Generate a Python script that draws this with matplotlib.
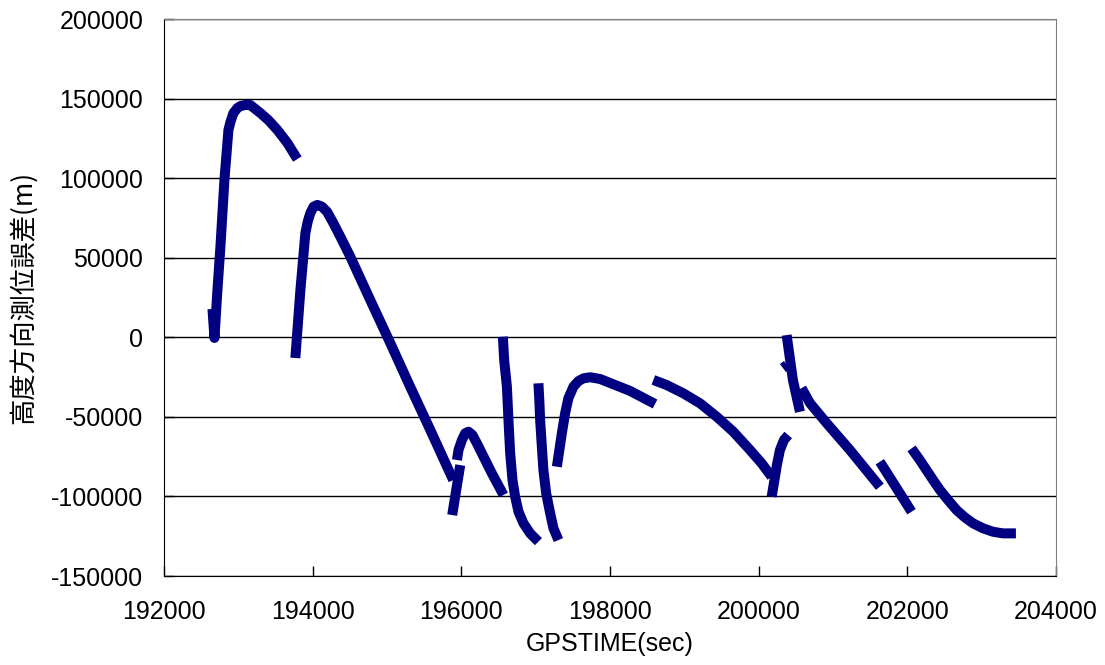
import matplotlib
matplotlib.use('Agg')
import matplotlib.pyplot as plt

plt.rcParams['font.family'] = ['Liberation Sans', 'Noto Sans CJK JP']
plt.rcParams['axes.unicode_minus'] = False

# GPS時刻(sec)と高度方向の測位誤差(m)、途切れている区間ごと
t1 = [192652, 192679, 192719, 192759, 192813, 192867, 192894, 192934, 192988, 193028,
      193095, 193163, 193297, 193404, 193525, 193660, 193794]
h1 = [17800, -400, 29700, 56700, 98800, 130300, 135300, 140900, 144100, 145300,
      146000, 145900, 140900, 136500, 130300, 122100, 112000]

t2 = [193767, 193835, 193902, 193933, 193969, 194013, 194063, 194126, 194193, 194278,
      194395, 194507, 194775, 195044, 195313, 195582, 195810, 195891]
h2 = [-13000, 29700, 65500, 72600, 78100, 82100, 83200, 82100, 78900, 71800,
      61100, 50600, 23400, -3600, -31200, -58200, -81500, -89700]

t3 = [195877, 195985]
h3 = [-111700, -80300]

t4 = [195941, 195962, 196008, 196052, 196097, 196150, 196209, 196321, 196411, 196567]
h4 = [-77100, -70800, -64500, -60300, -59300, -61400, -66600, -77100, -85500, -99100]

t5 = [196559, 196576, 196613, 196634, 196657, 196688, 196724, 196769, 196836, 196926, 197037]
h5 = [400, -14300, -31000, -52000, -72900, -89700, -100200, -109600, -116900, -123200, -128400]

t6 = [197037, 197051, 197060, 197083, 197104, 197141, 197195, 197239, 197306]
h6 = [-28900, -41500, -52000, -68700, -83400, -98000, -110600, -120000, -127400]

t7 = [197285, 197352, 197396, 197440, 197508, 197575, 197642, 197732, 197867, 198270, 198606]
h7 = [-81300, -60300, -47800, -38300, -31000, -27500, -25800, -25100, -26200, -33700, -41900]

t8 = [198583, 198763, 198986, 199211, 199435, 199658, 199883, 200040, 200174]
h8 = [-26800, -30000, -35200, -41500, -49900, -59300, -70800, -79200, -87600]

t9 = [200174, 200205, 200245, 200286, 200340, 200397]
h9 = [-100200, -91600, -80200, -70800, -64500, -61400]

t10 = [200376, 200460, 200555]
h10 = [1400, -26800, -46800]

t11 = [200326, 200380]
h11 = [-19300, -17400]

t12 = [200577, 200689, 200913, 201227, 201630]
h12 = [-31900, -41300, -53900, -70800, -93900]

t13 = [201630, 202056]
h13 = [-78200, -109600]

t14 = [202056, 202167, 202257, 202346, 202436, 202548, 202661, 202772, 202884,
       203018, 203153, 203287, 203460]
h14 = [-69800, -77100, -83400, -89700, -95800, -102300, -108500, -113100, -116900,
       -120000, -122200, -123200, -123200]

segments = [(t1, h1), (t2, h2), (t3, h3), (t4, h4), (t5, h5), (t6, h6), (t7, h7),
            (t8, h8), (t9, h9), (t10, h10), (t11, h11), (t12, h12), (t13, h13), (t14, h14)]

x_ticks = [192000, 194000, 196000, 198000, 200000, 202000, 204000]
y_ticks = [-150000, -100000, -50000, 0, 50000, 100000, 150000, 200000]

fig = plt.figure(figsize=(11.05, 6.65), dpi=100)
ax = fig.add_axes([0.1484, 0.1338, 0.8073, 0.8376])

for t, h in segments:
    ax.plot(t, h, color='#000080', lw=7.2, solid_capstyle='butt', solid_joinstyle='round')

ax.set_xlim(192000, 204000)
ax.set_ylim(-150000, 200000)
ax.set_xticks(x_ticks)
ax.set_yticks(y_ticks)
ax.set_xticklabels([str(v) for v in x_ticks])
ax.set_yticklabels([str(v) for v in y_ticks])
ax.tick_params(axis='x', direction='in', length=7, width=1, pad=17, labelsize=18)
ax.tick_params(axis='y', direction='in', length=7, width=1, pad=15, labelsize=18)

ax.yaxis.grid(True, color='black', lw=1)
ax.set_axisbelow(True)
for side in ['top', 'right']:
    ax.spines[side].set_color('#808080')
for side in ['left', 'bottom']:
    ax.spines[side].set_color('black')

ax.set_xlabel('GPSTIME(sec)', fontsize=18, labelpad=6)
ax.set_ylabel('高度方向測位誤差(m)', fontsize=19, labelpad=10,
              family=['Noto Sans CJK JP', 'Liberation Sans'])

fig.savefig('out.png', dpi=100)
